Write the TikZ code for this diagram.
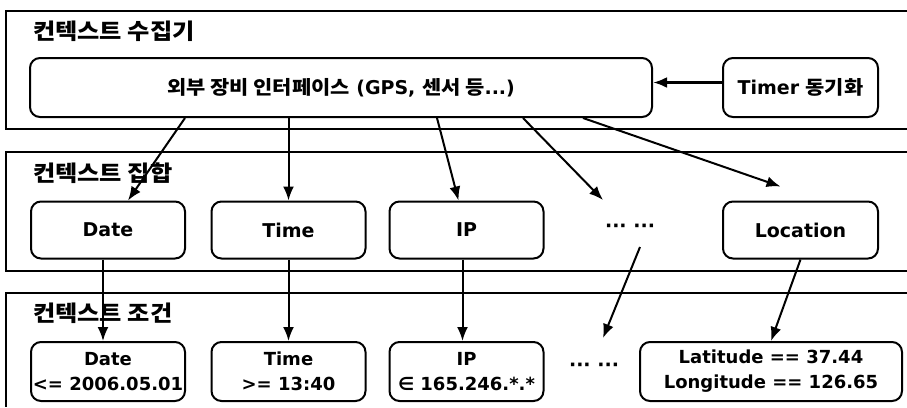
\documentclass[tikz,border=0pt]{standalone}
\usepackage{fontspec}
\setmainfont{DejaVu Sans}
\newfontfamily\kr{Noto Sans CJK KR}[FakeStretch=1.1]
\usetikzlibrary{arrows.meta}

\begin{document}
\begin{tikzpicture}[x=1pt,y=-1pt,>={Latex[length=14pt,width=11pt]},
  font=\bfseries\fontsize{19}{25}\selectfont,
  box/.style={draw,line width=2pt,rounded corners=10pt,minimum width=154pt,minimum height=57pt,align=center,inner sep=1pt},
  cond/.style={box,minimum height=59pt,font=\bfseries\fontsize{18}{25}\selectfont},
  head/.style={anchor=west,inner sep=0pt,font=\kr\bfseries\fontsize{22}{26}\selectfont},
  pane/.style={line width=1.6pt},
  link/.style={->,line width=2pt},
  dots/.style={inner sep=0pt}]
\useasboundingbox (0,0) rectangle (907,407);
% three layers
\draw[pane] (907,11) -- (6,11) -- (6,129) -- (907,129);
\draw[pane] (907,152) -- (6,152) -- (6,271) -- (907,271);
\draw[pane] (907,293) -- (6,293) -- (6,407);
\node[head] (t1) at (33,31) {컨텍스트 수집기};
\node[head] (t2) at (33,173) {컨텍스트 집합};
\node[head] (t3) at (33,313) {컨텍스트 조건};
% collector
\node[box,minimum width=622pt,minimum height=59pt] (iface) at (341,87.5) {{\kr 외부 장비 인터페이스} (GPS, {\kr 센서 등}...)};
\node[box,minimum width=155pt,minimum height=59pt] (timer) at (800.5,87.5) {Timer {\kr 동기화}};
% context set
\node[box] (date) at (108,230) {Date};
\node[box] (time) at (288.5,230) {Time};
\node[box] (ip) at (466.5,230) {IP};
\node[dots] (more) at (630,228) {··· ···};
\node[box,minimum width=155pt] (loc) at (800.5,230) {Location};
% conditions
\node[cond] (datec) at (108,371.5) {Date\\<= 2006.05.01};
\node[cond] (timec) at (288.5,371.5) {Time\\>= 13:40};
\node[cond] (ipc) at (466.5,371.5) {IP\\∈ 165.246.*.*};
\node[dots] (morec) at (594,367) {··· ···};
\node[cond,minimum width=262pt] (geo) at (771,371.5) {Latitude == 37.44\\Longitude == 126.65};
% links
\draw[->,line width=3pt] ([yshift=5pt]timer.west) -- ([yshift=5pt]iface.east);
\draw[link] ([xshift=-156pt]iface.south) -- ([xshift=20pt]date.north);
\draw[link] (iface.south -| time.north) -- (time.north);
\draw[link] ([xshift=96pt]iface.south) -- ([xshift=-8pt]ip.north);
\draw[link] ([xshift=182pt]iface.south) -- ([shift={(-27pt,28pt)}]more.center);
\draw[link] ([xshift=242pt]iface.south) -- ([shift={(-20pt,14pt)}]loc.north);
\draw[link] ([xshift=-5pt]date.south) -- ([xshift=-5pt]datec.north);
\draw[link] (time.south) -- (timec.north);
\draw[link] ([xshift=-4pt]ip.south) -- ([xshift=-4pt]ipc.north);
\draw[link] ([shift={(10pt,-19pt)}]more.center) -- ([shift={(9pt,29pt)}]morec.center);
\draw[link] (loc.south) -- (geo.north);
\end{tikzpicture}
\end{document}
